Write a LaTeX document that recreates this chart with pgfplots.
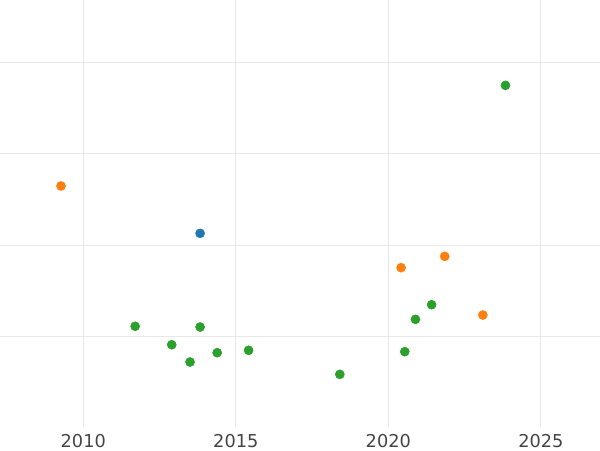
\documentclass[border=0pt]{standalone}
\usepackage{pgfplots}
\pgfplotsset{compat=1.18}
\usepackage{fontspec}
\setmainfont{DejaVu Sans}
\definecolor{tabblue}{HTML}{1F77B4}
\definecolor{taborange}{HTML}{FF7F0E}
\definecolor{tabgreen}{HTML}{2CA02C}
\definecolor{gridc}{HTML}{E8E8E8}
\definecolor{tickc}{HTML}{444444}
\begin{document}
\begin{tikzpicture}
\begin{axis}[
  scale only axis, width=450pt, height=320.25pt,
  xmin=2007.27, xmax=2026.94, ymin=0.01, ymax=4.682,
  xtick={2010,2015,2020,2025}, ytick={1,2,3,4}, yticklabels={},
  xticklabels={2010,2015,2020,2025},
  xmajorgrids, ymajorgrids,
  grid style={gridc, line width=0.9pt},
  axis line style={draw=none},
  major tick length=0pt,
  /pgf/number format/assume math mode=true,
  xticklabel style={font=\fontsize{13.3}{16}\selectfont, text=tickc, inner sep=0pt, anchor=north, yshift=-5.5pt},
  every axis plot/.append style={only marks, mark=*, mark size=3.4pt},
]
\addplot[mark options={draw=taborange, fill=taborange}] coordinates {
(2009.27,2.647) (2020.42,1.753) (2021.85,1.877) (2023.10,1.235)};
\addplot[mark options={draw=tabblue, fill=tabblue}] coordinates {
(2013.83,2.129)};
\addplot[mark options={draw=tabgreen, fill=tabgreen}] coordinates {
(2011.70,1.112) (2012.90,0.910) (2013.50,0.721) (2013.83,1.104) (2014.39,0.823)
(2015.42,0.849) (2018.41,0.586) (2020.54,0.834) (2020.89,1.188) (2021.42,1.348)
(2023.84,3.748)};
\end{axis}
\pgfresetboundingbox
\path (0,-17.25pt) rectangle (450pt,320.25pt);
\end{tikzpicture}
\end{document}
